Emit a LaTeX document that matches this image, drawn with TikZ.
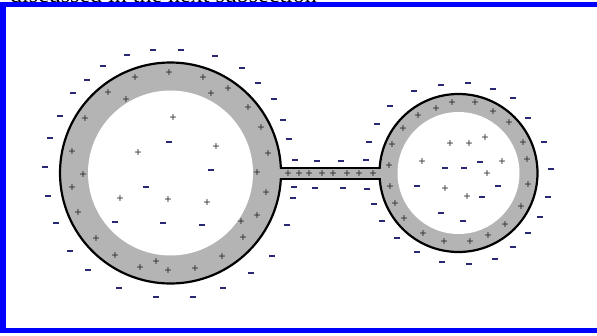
\documentclass[tikz,border=0pt]{standalone}
\usepackage{fontspec}
\setmainfont{Liberation Serif}
\newfontfamily\chargefont{DejaVu Sans}
\usepackage{xcolor}
\usepackage{tikz}
\definecolor{frameblue}{RGB}{0,0,255}
\definecolor{ringgray}{RGB}{180,180,180}
\definecolor{chargeneg}{RGB}{40,40,115}
\definecolor{chargepos}{RGB}{30,30,30}
\tikzset{
  ring/.style      = {fill=ringgray, draw=black, line width=2.2pt},
  wall/.style      = {draw=black, line width=2.2pt},
  cavity/.style    = {fill=white},
  poscharge/.style = {text=chargepos, font=\chargefont\fontsize{9.5}{9.5}\selectfont,
                      inner sep=0pt},
  negcharge/.style = {fill=chargeneg, minimum width=5.5pt, minimum height=1.9pt,
                      inner sep=0pt},
  border/.style    = {draw=frameblue, line width=5.5pt},
  caption/.style   = {font=\fontsize{24}{28}\selectfont, anchor=base west, inner sep=0pt},
}

\begin{document}
\begin{tikzpicture}[x=1pt, y=-1pt]
\useasboundingbox (0,0) rectangle (597,335);
\clip (0,0) rectangle (597,335);
\fill[white] (0,0) rectangle (597,335);

% ---------- Conductors ----------
\coordinate (bigc) at (170.5,173);
\coordinate (smallc) at (458.5,173);
\filldraw[ring] (bigc) circle[radius=110.5];
\filldraw[ring] (smallc) circle[radius=79];

% connecting wire
\fill[ringgray] (278,169) rectangle (382,178);
\draw[wall] (280.9,168) -- (379.7,168);
\draw[wall] (280.9,179) -- (379.7,179);

% hollow insides
\fill[cavity] (bigc) circle[radius=82.5];
\fill[cavity] (smallc) circle[radius=61];

% ---------- Charges: big sphere ----------
\foreach \px/\py [count=\i] in {169/73, 135/78, 203/78, 228/89, 108/93, 211/94, 126/100,
    248/108, 85/119, 261/128, 72/152, 268/154, 83/175, 257/173, 72/188, 266/193, 78/213,
    257/216, 241/222, 243/238, 96/239, 222/257, 115/256, 156/262, 140/268, 168/271, 195/269}
  \node[poscharge] (bp\i) at (\px,\py) {+};
\foreach \px/\py [count=\i] in {173/118, 216/147, 138/153, 120/199, 168/200, 207/203}
  \node[poscharge] (bip\i) at (\px,\py) {+};
\foreach \px/\py [count=\i] in {169/142, 211/170, 146/187, 115/222, 163/223, 202/225}
  \node[negcharge] (bin\i) at (\px,\py) {};
\foreach \px/\py [count=\i] in {127/55, 153/50, 181/50, 215/56, 103/66, 242/68, 87/80,
    258/83, 73/93, 274/99, 60/116, 283/120, 50/138, 289/139, 45/167, 48/196, 56/223,
    287/225, 70/251, 272/256, 88/270, 251/273, 119/288, 156/297, 193/297, 223/288}
  \node[negcharge] (bn\i) at (\px,\py) {};

% ---------- Charges: wire ----------
\foreach \px [count=\i] in {288, 299, 309, 322, 333, 347, 359, 373}
  \node[poscharge] (tp\i) at (\px,174) {+};
\foreach \px/\py [count=\i] in {295/160, 317/161, 341/161, 366/160, 294/187, 315/188,
    343/188, 367/189, 293/198}
  \node[negcharge] (tn\i) at (\px,\py) {};

% ---------- Charges: small sphere ----------
\foreach \px/\py [count=\i] in {452/103, 475/103, 436/109, 493/112, 418/116, 509/123,
    403/129, 523/143, 392/145, 527/160, 389/166, 528/185, 390/187, 521/207, 395/204,
    505/225, 404/219, 488/236, 423/234, 470/242, 444/242}
  \node[poscharge] (sp\i) at (\px,\py) {+};
\foreach \px/\py [count=\i] in {450/144, 469/144, 485/138, 422/162, 502/162, 487/174,
    445/189, 467/197}
  \node[poscharge] (sip\i) at (\px,\py) {+};
\foreach \px/\py [count=\i] in {480/162, 445/168, 464/168, 417/186, 498/186, 482/197,
    441/213, 463/221}
  \node[negcharge] (sin\i) at (\px,\py) {};
\foreach \px/\py [count=\i] in {414/91, 441/85, 468/83, 493/89, 513/98, 390/106, 528/118,
    377/124, 544/142, 369/142, 551/169, 548/197, 374/204, 540/217, 382/221, 528/233,
    397/238, 513/247, 417/252, 495/259, 442/262, 469/264}
  \node[negcharge] (sn\i) at (\px,\py) {};

% ---------- Page frame ----------
\node[caption] (cut) at (10,2.5) {discussed in the next subsection};
\draw[border] (600,4.7) -- (2.8,4.7) -- (2.8,330.5) -- (600,330.5);

\end{tikzpicture}
\end{document}
